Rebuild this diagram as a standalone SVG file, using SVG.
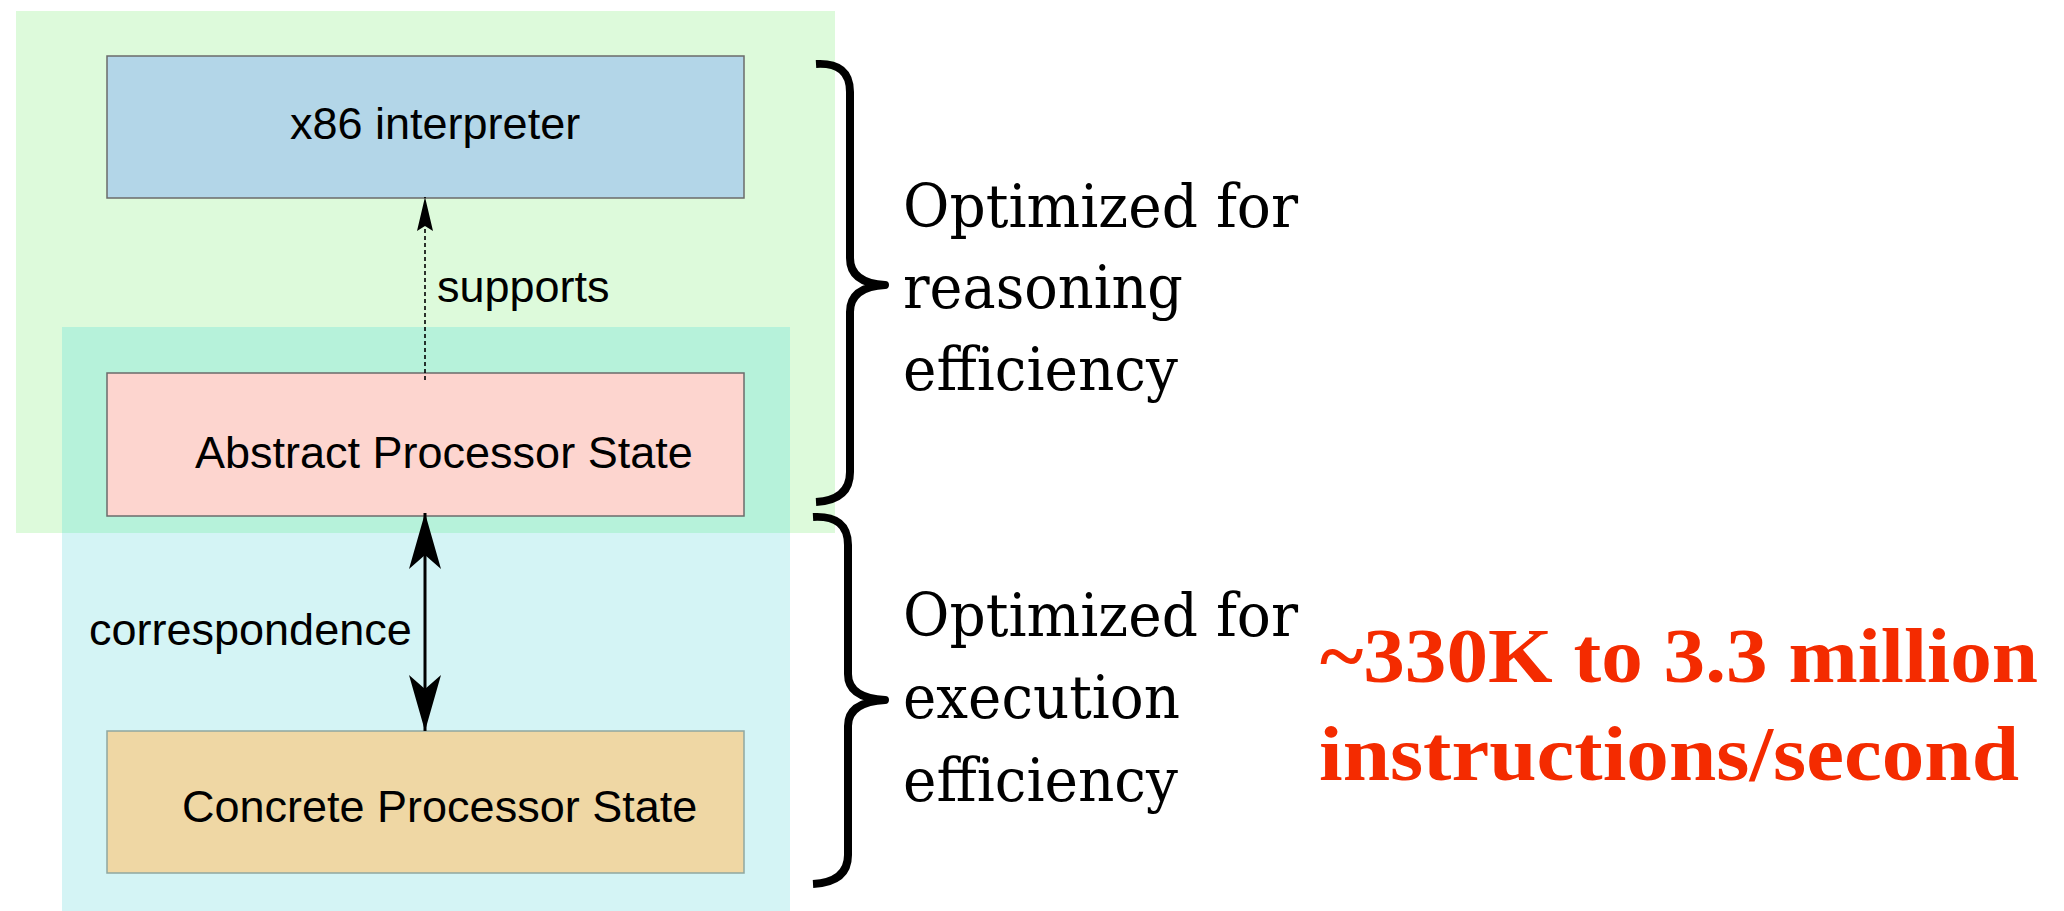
<svg xmlns="http://www.w3.org/2000/svg" width="2064" height="911" viewBox="0 0 2064 911">
<style>
.box{stroke:#6b6b6b;stroke-width:1.5}
.lbl{font-family:"Liberation Sans",Arial,sans-serif;font-size:45px;fill:#000}
.side{font-family:"DejaVu Serif","Liberation Serif",serif;font-size:60px;fill:#000}
.red{font-family:"Liberation Serif","Times New Roman",serif;font-weight:bold;font-size:79px;fill:#f42b00}
.brace{fill:none;stroke:#000;stroke-width:8;stroke-linejoin:round;stroke-linecap:butt}
</style>
<defs>
<marker id="headThin" markerUnits="userSpaceOnUse" markerWidth="40" markerHeight="22" viewBox="-2 -10 40 20" refX="34" refY="0" orient="auto">
<path d="M0,-8 L34,0 L0,8 L5,0 Z" fill="#000"/>
</marker>
<marker id="headBig" markerUnits="userSpaceOnUse" markerWidth="62" markerHeight="38" viewBox="-2 -18 62 36" refX="56" refY="0" orient="auto-start-reverse">
<path d="M0,-16 L56,0 L0,16 L14,0 Z" fill="#000"/>
</marker>
</defs>
<g id="regions">
<rect x="16" y="11" width="819" height="522" fill="#ddfadb"/>
<rect x="62" y="327" width="728" height="584" fill="#d4f4f5"/>
<rect x="62" y="327" width="728" height="206" fill="#b6f2da"/>
</g>
<g id="node-x86">
<rect class="box" x="107" y="56" width="637" height="142" fill="#b3d6e8"/>
<text class="lbl" x="290" y="139">x86 interpreter</text>
</g>
<g id="node-abstract">
<rect class="box" x="107" y="373" width="637" height="143" fill="#fdd5cf"/>
<text class="lbl" x="195" y="468">Abstract Processor State</text>
</g>
<g id="node-concrete">
<rect class="box" x="107" y="731" width="637" height="142" fill="#efd7a4" style="stroke:#8fa7a0"/>
<text class="lbl" x="182" y="822">Concrete Processor State</text>
</g>
<g id="connectors">
<line x1="425" y1="380" x2="425" y2="197" stroke="#000" stroke-width="1.6" stroke-dasharray="4,3" marker-end="url(#headThin)"/>
<text class="lbl" x="437" y="302">supports</text>
<line x1="425" y1="513" x2="425" y2="731" stroke="#000" stroke-width="3" marker-start="url(#headBig)" marker-end="url(#headBig)"/>
<text class="lbl" x="89" y="645">correspondence</text>
</g>
<g id="brace-reasoning">
<path class="brace" d="M816,64 Q850,62 850,92 L850,258 Q850,283 885,285 Q850,287 850,312 L850,472 Q850,500 816,502"/>
<text class="side" x="903" y="227" textLength="395" lengthAdjust="spacingAndGlyphs">Optimized for</text>
<text class="side" x="903" y="308" textLength="280" lengthAdjust="spacingAndGlyphs">reasoning</text>
<text class="side" x="903" y="390" textLength="275" lengthAdjust="spacingAndGlyphs">efficiency</text>
</g>
<g id="brace-execution">
<path class="brace" d="M813,517 Q848,515 848,545 L848,674 Q848,698 885,700 Q848,702 848,726 L848,855 Q848,882 813,884"/>
<text class="side" x="903" y="636" textLength="395" lengthAdjust="spacingAndGlyphs">Optimized for</text>
<text class="side" x="903" y="718" textLength="277" lengthAdjust="spacingAndGlyphs">execution</text>
<text class="side" x="903" y="801" textLength="275" lengthAdjust="spacingAndGlyphs">efficiency</text>
</g>
<g id="speed-note">
<text class="red" x="1320" y="682" textLength="718" lengthAdjust="spacingAndGlyphs">~330K to 3.3 million</text>
<text class="red" x="1319" y="780" textLength="700" lengthAdjust="spacingAndGlyphs">instructions/second</text>
</g>
</svg>
